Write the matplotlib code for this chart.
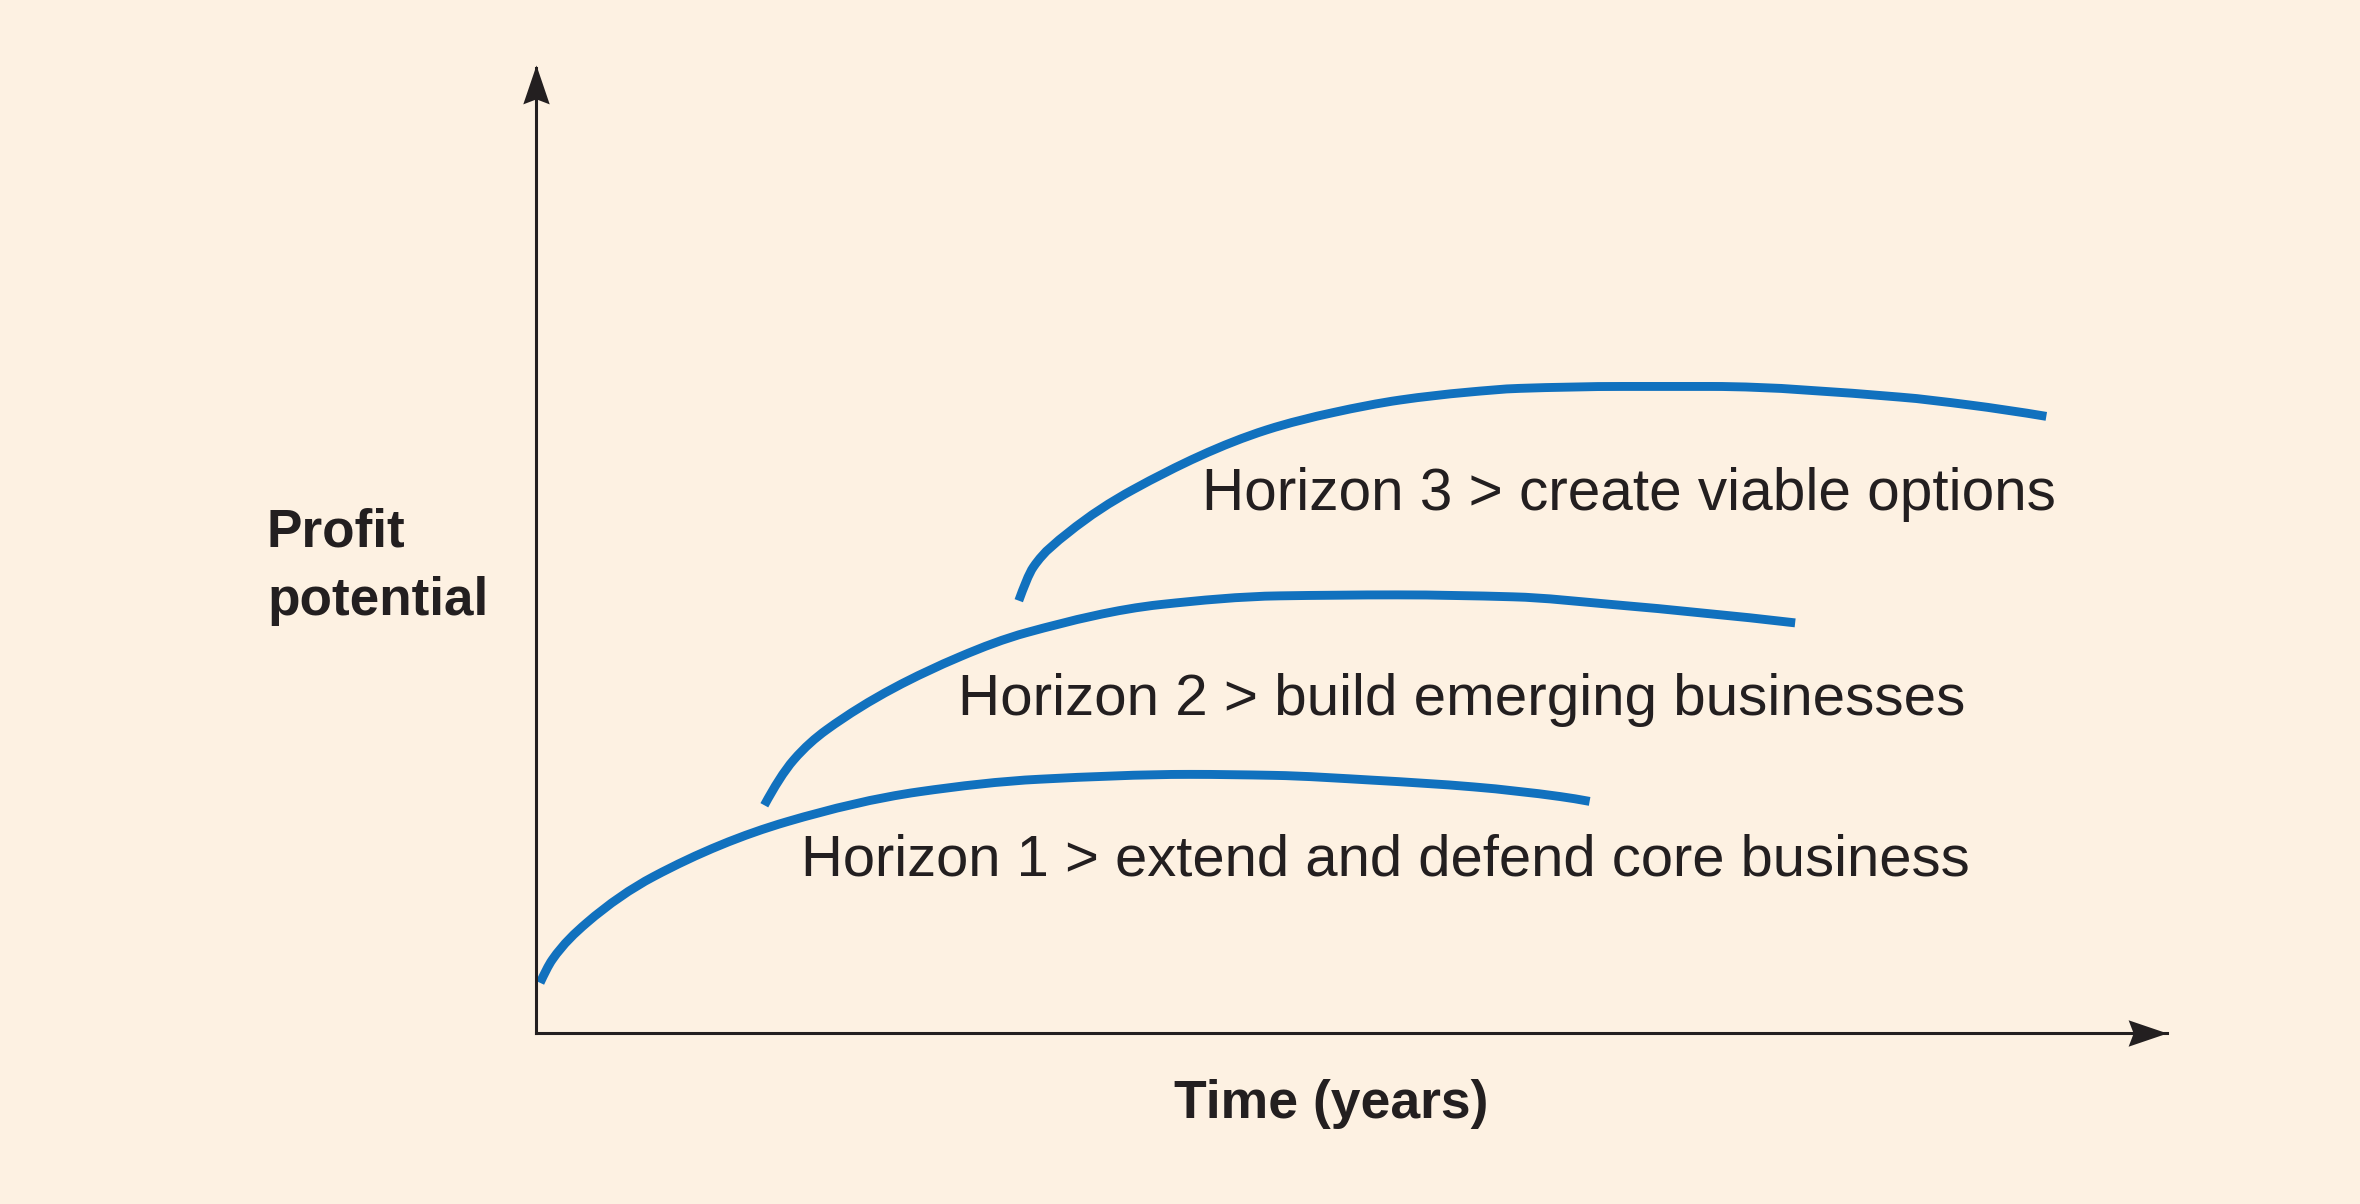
import matplotlib
matplotlib.use("Agg")
import matplotlib.pyplot as plt
from matplotlib.path import Path
from matplotlib.patches import PathPatch
from matplotlib import font_manager

# ---------------- data (time units 0-100, profit units 0-100) ----------------
h1_time = [0.25, 1.0, 3.1, 7.2, 15.4, 23.5, 30.9, 40.1, 45.2, 51.3, 57.5, 62.8, 64.6]
h1_profit = [5.2, 7.6, 11.4, 16.2, 21.9, 25.0, 26.3, 26.8, 26.7, 26.2, 25.5, 24.5, 24.0]

h2_time = [14.0, 15.8, 17.8, 26.0, 30.1, 38.3, 45.6, 52.8, 59.9, 66.0, 77.2]
h2_profit = [23.6, 28.3, 31.4, 39.0, 41.5, 44.4, 45.3, 45.4, 45.2, 44.4, 42.5]

h3_time = [29.6, 30.5, 32.6, 36.6, 44.8, 48.9, 53.0, 57.1, 60.3, 66.7, 72.0, 83.6,
           87.8, 92.6]
h3_profit = [44.8, 48.3, 51.8, 56.3, 62.5, 64.3, 65.6, 66.4, 66.8, 67.0, 67.0, 65.9,
             65.1, 63.9]

horizon_labels = ["Horizon 1 > extend and defend core business",
                  "Horizon 2 > build emerging businesses",
                  "Horizon 3 > create viable options"]
y_label_lines = ["Profit", "potential"]
x_label = "Time (years)"

# ---------------- style ----------------
BG = "#FDF1E2"
BLUE = "#1171BE"
INK = "#231F20"
W, H = 2360, 1204

names = {f.name for f in font_manager.fontManager.ttflist}
FAM = "Liberation Sans" if "Liberation Sans" in names else "DejaVu Sans"

fig = plt.figure(figsize=(W / 100, H / 100), dpi=100, facecolor=BG)

ox, oy = 536, 1033      # axis origin (pixels)
xt, yt = 2167, 68       # axis ends (pixels)
ax = fig.add_axes([ox / W, 1 - oy / H, (xt - ox) / W, (oy - yt) / H])
ax.set_facecolor(BG)
ax.patch.set_alpha(0)
ax.set_xlim(0, 100)
ax.set_ylim(0, 100)
ax.set_xticks([])
ax.set_yticks([])
for s in ["top", "right"]:
    ax.spines[s].set_visible(False)
for s in ["left", "bottom"]:
    ax.spines[s].set_color(INK)
    ax.spines[s].set_linewidth(2.2)

# arrow heads (slightly notched)
right_head = Path([(0, 0), (-1, 0.34), (-0.87, 0), (-1, -0.34), (0, 0)],
                  [Path.MOVETO, Path.LINETO, Path.LINETO, Path.LINETO, Path.CLOSEPOLY])
up_head = Path([(0, 0), (0.34, -1), (0, -0.87), (-0.34, -1), (0, 0)],
               [Path.MOVETO, Path.LINETO, Path.LINETO, Path.LINETO, Path.CLOSEPOLY])
ax.plot([1.0], [0], marker=right_head, markersize=56, color=INK, mew=0,
        transform=ax.transAxes, clip_on=False, zorder=5)
ax.plot([0], [1.003], marker=up_head, markersize=56, color=INK, mew=0,
        transform=ax.transAxes, clip_on=False, zorder=5)


def pchip_slopes(xs, ys):
    n = len(xs)
    h = [xs[i + 1] - xs[i] for i in range(n - 1)]
    d = [(ys[i + 1] - ys[i]) / h[i] for i in range(n - 1)]
    m = [0.0] * n
    for k in range(1, n - 1):
        if d[k - 1] * d[k] <= 0:
            m[k] = 0.0
        else:
            w1 = 2 * h[k] + h[k - 1]
            w2 = h[k] + 2 * h[k - 1]
            m[k] = (w1 + w2) / (w1 / d[k - 1] + w2 / d[k])

    def end(h0, h1, d0, d1):
        v = ((2 * h0 + h1) * d0 - h0 * d1) / (h0 + h1)
        if v * d0 <= 0:
            return 0.0
        if d0 * d1 <= 0 and abs(v) > 3 * abs(d0):
            return 3 * d0
        return v

    m[0] = end(h[0], h[1], d[0], d[1])
    m[-1] = end(h[-1], h[-2], d[-1], d[-2])
    return m


def smooth_path(xs, ys):
    """Shape-preserving cubic Hermite curve through the points, as Bezier segments."""
    m = pchip_slopes(xs, ys)
    verts = [(xs[0], ys[0])]
    codes = [Path.MOVETO]
    for i in range(len(xs) - 1):
        hh = xs[i + 1] - xs[i]
        verts += [(xs[i] + hh / 3, ys[i] + m[i] * hh / 3),
                  (xs[i + 1] - hh / 3, ys[i + 1] - m[i + 1] * hh / 3),
                  (xs[i + 1], ys[i + 1])]
        codes += [Path.CURVE4] * 3
    return Path(verts, codes)


for t, p in [(h1_time, h1_profit), (h2_time, h2_profit), (h3_time, h3_profit)]:
    patch = PathPatch(smooth_path(t, p), facecolor="none", edgecolor=BLUE, lw=6.4,
                      capstyle="butt", joinstyle="round", clip_on=False,
                      transform=ax.transData)
    ax.add_patch(patch)

renderer = fig.canvas.get_renderer()


def fit_text(x_px, y_px, s, target_w, weight="normal"):
    txt = fig.text(x_px / W, 1 - y_px / H, s, fontsize=40, ha="left", va="baseline",
                   color=INK, family=FAM, fontweight=weight)
    w = txt.get_window_extent(renderer).width
    txt.set_fontsize(40 * target_w / w)
    return txt


# horizon labels: (left px, baseline px, width px)
label_pos = [(801, 876, 1168), (958, 715, 1006), (1202, 510, 854)]
for lab, (x, y, w) in zip(horizon_labels, label_pos):
    fit_text(x, y, lab, w)

t2 = fit_text(267, 615, y_label_lines[1], 221, "bold")
t1 = fig.text(267 / W, 1 - 547 / H, y_label_lines[0], fontsize=t2.get_fontsize(),
              ha="left", va="baseline", color=INK, family=FAM, fontweight="bold")

fit_text(1174, 1118, x_label, 314, "bold")

fig.savefig("out.png", dpi=100, facecolor=BG)
